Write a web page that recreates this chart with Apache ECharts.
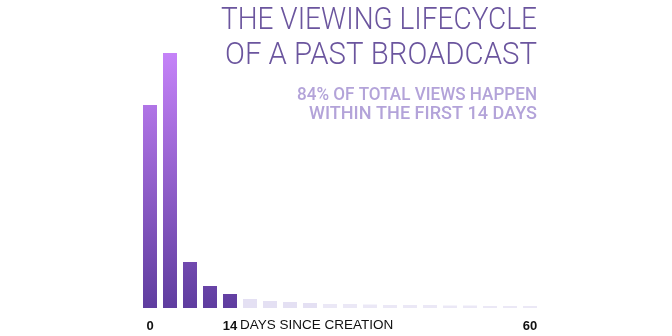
<!DOCTYPE html>
<html>
<head>
<meta charset="utf-8">
<script src="https://cdn.jsdelivr.net/npm/echarts@6/dist/echarts.min.js"></script>
<style>html,body{margin:0;padding:0;background:#fff}#c{width:672px;height:336px}</style>
</head>
<body>
<div id="c"></div>
<script>
// Data
var categories = ['0','1','2','3','14','15','16','17','18','19','20','21','22','23','24','25','26','27','28','60'];
var tickLabels = {0: '0', 4: '14', 19: '60'};
var viewsHighlighted = [20.3, 25.5, 4.6, 2.2, 1.4];
var viewsLater = [0.9, 0.7, 0.6, 0.5, 0.4, 0.4, 0.35, 0.3, 0.3, 0.3, 0.25, 0.25, 0.2, 0.2, 0.2];
var titleLines = ['THE VIEWING LIFECYCLE', 'OF A PAST BROADCAST'];
var subtitleLines = ['84% OF TOTAL VIEWS HAPPEN', 'WITHIN THE FIRST 14 DAYS'];
var axisNameText = 'DAYS SINCE CREATION';

var chart = echarts.init(document.getElementById('c'));
var gridTop = 48, gridBottom = 28;

var ctx = document.createElement('canvas').getContext('2d');
function fitText(text, font, targetWidth) {
  ctx.font = font;
  return targetWidth / ctx.measureText(text).width;
}
var titleFont = '300 32px Roboto, sans-serif';
var subFont = '500 18px Roboto, sans-serif';
var rightX = 537;
function textEl(text, font, color, cy, width) {
  var s = fitText(text, font, width);
  return {
    type: 'text', x: rightX, y: cy, scaleX: s, scaleY: 1,
    style: {text: text, font: font, fill: color, align: 'right', verticalAlign: 'middle'}
  };
}

var barData = [];
viewsHighlighted.forEach(function (v) {
  barData.push({
    value: v,
    itemStyle: {
      color: {
        type: 'linear', x: 0, y: gridTop, x2: 0, y2: 336 - gridBottom, global: true,
        colorStops: [{offset: 0, color: '#c784fa'}, {offset: 1, color: '#5f3d9f'}]
      }
    }
  });
});
viewsLater.forEach(function (v, i) {
  barData.push({value: v, itemStyle: {color: i < 4 ? '#e4e0f3' : '#ebe8f6'}});
});

chart.setOption({
  animation: false,
  grid: {left: 140, right: 132, top: gridTop, bottom: gridBottom},
  xAxis: {
    type: 'category',
    data: categories,
    axisLine: {show: false}, axisTick: {show: false},
    axisLabel: {
      interval: 0, margin: 12,
      fontFamily: 'Liberation Sans, Arial, sans-serif', fontSize: 13, fontWeight: 'bold', color: '#111',
      formatter: function (v, i) { return tickLabels[i] || ''; }
    }
  },
  yAxis: {type: 'value', min: 0, max: 26, show: false},
  series: [{
    type: 'bar', data: barData, barCategoryGap: '30%'
  }],
  graphic: [
    textEl(titleLines[0], titleFont, '#6b559e', 21, 316),
    textEl(titleLines[1], titleFont, '#6b559e', 56, 312),
    textEl(subtitleLines[0], subFont, '#b3a3d9', 95, 240),
    textEl(subtitleLines[1], subFont, '#b3a3d9', 114.5, 228),
    {
      type: 'text', left: 240, top: 318,
      style: {text: axisNameText, font: '13.5px "Liberation Sans", Arial, sans-serif', fill: '#111'}
    }
  ]
});
</script>
</body>
</html>
